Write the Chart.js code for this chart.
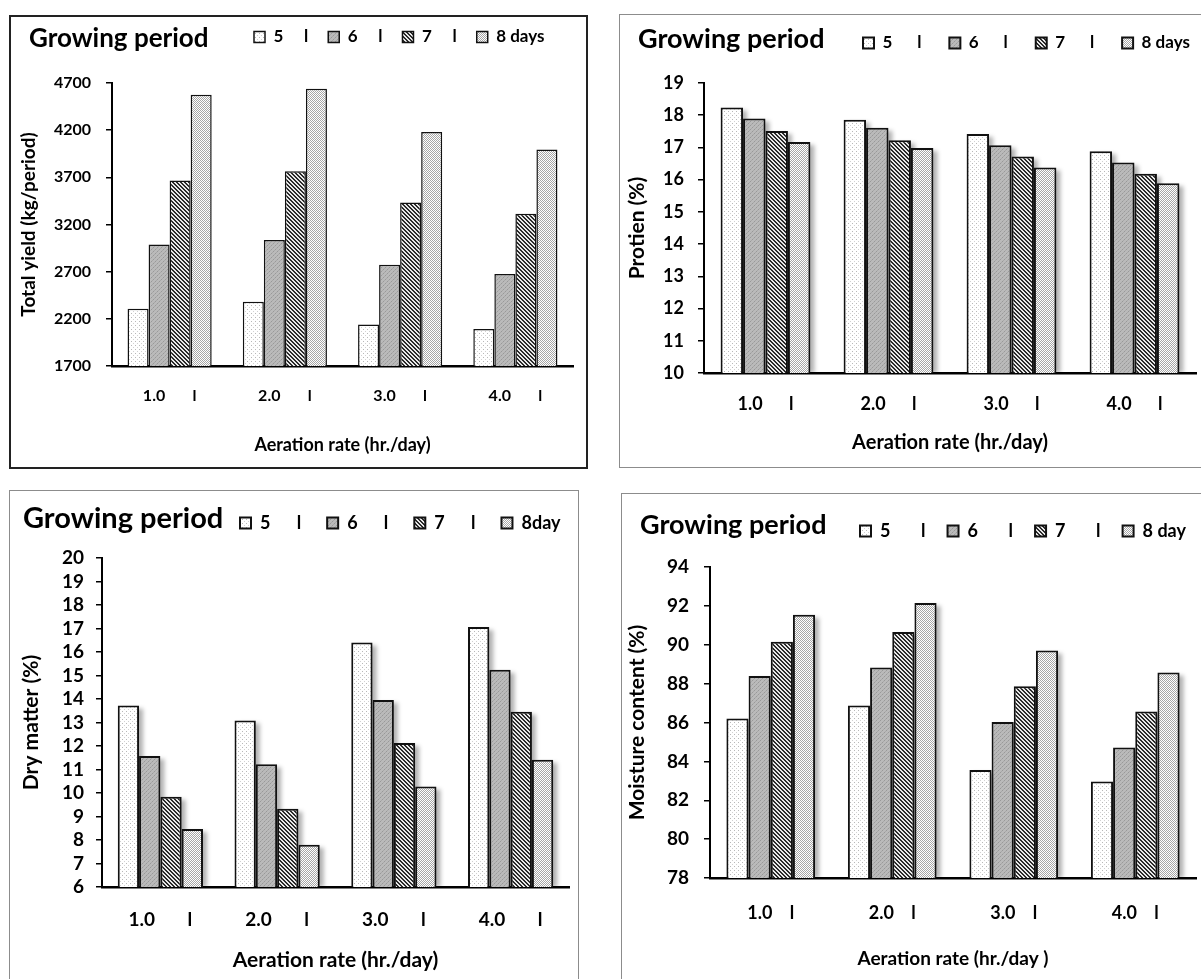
<!DOCTYPE html>
<html>
<head>
<meta charset="utf-8">
<title>Aeration rate and growing period</title>
<style>
  html, body { margin: 0; padding: 0; background: #fff; overflow: hidden; width: 1201px; height: 979px; }
  .panel { position: absolute; box-sizing: border-box; background: #fff; }
  .panel canvas { display: block; }
</style>
</head>
<body>

<div class="panel" id="p1"><canvas></canvas></div>
<div class="panel" id="p2"><canvas></canvas></div>
<div class="panel" id="p3"><canvas></canvas></div>
<div class="panel" id="p4"><canvas></canvas></div>

<script src="https://cdn.jsdelivr.net/npm/chart.js"></script>
<script>
    // aeration rate (hr./day) categories
    const rates = ['1.0', '2.0', '3.0', '4.0'];

    // total yield (kg/period), one list per growing period
    const yieldLegend = ['5     l', '6     l', '7     l', '8 days'];
    const yield5 = [2306, 2380, 2139, 2093];
    const yield6 = [2989, 3035, 2773, 2674];
    const yield7 = [3666, 3765, 3432, 3315];
    const yield8 = [4576, 4640, 4180, 3995];
    const yieldTicks = [1700, 2200, 2700, 3200, 3700, 4200, 4700];

    // protein (%)
    const proteinLegend = ['5      l', '6      l', '7      l', '8 days'];
    const protein5 = [18.24, 17.86, 17.42, 16.88];
    const protein6 = [17.90, 17.61, 17.07, 16.53];
    const protein7 = [17.51, 17.22, 16.72, 16.18];
    const protein8 = [17.17, 16.98, 16.38, 15.89];
    const proteinTicks = [10, 11, 12, 13, 14, 15, 16, 17, 18, 19];

    // dry matter (%)
    const dryLegend = ['5      l', '6      l', '7      l', '8day'];
    const dry5 = [13.72, 13.09, 16.40, 17.06];
    const dry6 = [11.57, 11.22, 13.96, 15.24];
    const dry7 = [9.84, 9.33, 12.13, 13.46];
    const dry8 = [8.47, 7.80, 10.28, 11.41];
    const dryTicks = [6, 7, 8, 9, 10, 11, 12, 13, 14, 15, 16, 17, 18, 19, 20];

    // moisture content (%)
    const moistLegend = ['5       l', '6       l', '7       l', '8 day'];
    const moist5 = [86.20, 86.88, 83.56, 82.96];
    const moist6 = [88.39, 88.83, 86.03, 84.72];
    const moist7 = [90.15, 90.66, 87.87, 86.56];
    const moist8 = [91.54, 92.15, 89.70, 88.57];
    const moistTicks = [78, 80, 82, 84, 86, 88, 90, 92, 94];

    const FONT = 'Lato, "Open Sans", sans-serif';

    // small textures like the Excel pattern fills
    function pattern(kind) {
        const c = document.createElement('canvas');
        c.width = 4; c.height = 4;
        const g = c.getContext('2d');
        const px = (x, y, col) => { g.fillStyle = col; g.fillRect(x, y, 1, 1); };
        if (kind === 0) {
            g.fillStyle = '#ffffff'; g.fillRect(0, 0, 4, 4);
            px(0, 0, '#b8b8b8'); px(2, 2, '#d2d2d2');
        } else if (kind === 1) {
            g.fillStyle = '#bababa'; g.fillRect(0, 0, 4, 4);
            px(0, 0, '#999'); px(2, 2, '#999'); px(1, 3, '#a8a8a8'); px(3, 1, '#a8a8a8');
        } else if (kind === 2) {
            g.fillStyle = '#e8e8e8'; g.fillRect(0, 0, 4, 4);
            for (let y = 0; y < 4; y++) for (let x = 0; x < 4; x++) if ((x - y + 4) % 4 < 2) px(x, y, '#2a2a2a');
        } else {
            for (let y = 0; y < 4; y++) for (let x = 0; x < 4; x++) px(x, y, (x + y) % 2 ? '#ffffff' : '#a6a6a6');
        }
        return g.createPattern(c, 'repeat');
    }
    const fills = [pattern(0), pattern(1), pattern(2), pattern(3)];

    // "Growing period" heading and legend placed on the same row
    const header = {
        id: 'header',
        afterLayout(chart, args, opts) {
            const lg = chart.legend;
            const lab = chart.options.plugins.legend.labels;
            const itemH = Math.max(lab.font.size, lab.boxHeight);
            const w = lg.right - lg.left, h = lg.bottom - lg.top;
            lg.left = opts.legendX - lab.padding;
            lg.right = lg.left + w;
            lg.top = opts.legendY - lab.padding - itemH / 2;
            lg.bottom = lg.top + h;
        },
        afterDraw(chart, args, opts) {
            const ctx = chart.ctx;
            ctx.save();
            ctx.font = 'bold ' + opts.size + 'px ' + FONT;
            ctx.fillStyle = '#000';
            ctx.textBaseline = 'alphabetic';
            ctx.fillText(opts.text, opts.x, opts.y);
            ctx.restore();
        }
    };

    // soft grey shadow to the right of the bars
    const shadow = {
        id: 'shadow',
        beforeDatasetsDraw(chart, args, opts) {
            if (!opts.show) return;
            const ctx = chart.ctx;
            const bottom = chart.chartArea.bottom;
            ctx.save();
            ctx.beginPath();
            ctx.rect(chart.chartArea.left, chart.chartArea.top, chart.chartArea.width + 20, chart.chartArea.height);
            ctx.clip();
            ctx.fillStyle = 'rgba(0,0,0,0.3)';
            ctx.filter = 'blur(2px)';
            chart.data.datasets.forEach((ds, i) => {
                chart.getDatasetMeta(i).data.forEach(bar => {
                    const {x, y, width} = bar.getProps(['x', 'y', 'width'], true);
                    ctx.fillRect(x - width / 2 + 4, y + 3, width, bottom - y - 3);
                });
            });
            ctx.restore();
        }
    };

    function drawPanel(p) {
        const el = document.getElementById(p.id);
        const [bx, by, bw, bh] = p.box;
        el.style.left = bx + 'px';
        el.style.top = by + 'px';
        el.style.width = bw + 'px';
        el.style.height = bh + 'px';
        el.style.border = p.border + 'px solid ' + p.borderColor;
        const ox = bx + p.border, oy = by + p.border;
        const W = bw - 2 * p.border, H = bh - 2 * p.border;
        const canvas = el.querySelector('canvas');
        canvas.width = W;
        canvas.height = H;

        const pl = p.plot[0] - ox, pt = p.plot[1] - oy, pr = p.plot[2] - ox, pb = p.plot[3] - oy;
        const legendH = Math.max(p.legendSize, 11) + p.legendPad + 10;
        const ticks = p.ticks;

        new Chart(canvas, {
            type: 'bar',
            data: {
                labels: rates.map(r => r + ' '.repeat(p.gap) + 'l'),
                datasets: p.series.map((vals, i) => ({
                    label: p.legend[i],
                    data: vals,
                    backgroundColor: fills[i],
                    borderColor: '#111',
                    borderWidth: p.barBorder,
                    barPercentage: 1,
                    categoryPercentage: 0.73
                }))
            },
            options: {
                responsive: false,
                animation: false,
                devicePixelRatio: 1,
                layout: { padding: { top: pt - legendH, left: 0, right: W - pr, bottom: 0 } },
                plugins: {
                    legend: {
                        position: 'top',
                        align: 'start',
                        labels: {
                            boxWidth: 11, boxHeight: 11, padding: p.legendPad, color: '#000',
                            font: { family: FONT, size: p.legendSize, weight: 'bold' }
                        }
                    },
                    tooltip: { enabled: false },
                    header: {
                        text: 'Growing period', size: p.headSize,
                        x: p.head[0] - ox, y: p.head[1] - oy,
                        legendX: p.legendAt[0] - ox, legendY: p.legendAt[1] - oy
                    },
                    shadow: { show: p.shadow }
                },
                scales: {
                    x: {
                        grid: { display: true, drawOnChartArea: false, drawTicks: false },
                        border: { display: true, color: '#000', width: 2.5 },
                        ticks: {
                            color: '#000', padding: p.xTickPad, maxRotation: 0, autoSkip: false,
                            font: { family: FONT, size: p.xTickSize, weight: 'bold' }
                        },
                        title: {
                            display: true, text: p.xTitle, color: '#000',
                            font: { family: FONT, size: p.xTitleSize, weight: 'bold' },
                            padding: { top: 0, bottom: p.xTitlePad }
                        },
                        afterFit: s => { s.height = H - pb; }
                    },
                    y: {
                        min: ticks[0],
                        max: ticks[ticks.length - 1],
                        ticks: {
                            stepSize: ticks[1] - ticks[0], autoSkip: false, color: '#000', padding: p.yTickPad,
                            font: { family: FONT, size: p.yTickSize, weight: 'bold' },
                            callback: v => String(v)
                        },
                        grid: { drawOnChartArea: false, drawTicks: true, tickLength: 6, color: '#000', lineWidth: 1.5 },
                        border: { display: true, color: '#000', width: 2 },
                        title: {
                            display: true, text: p.yTitle, color: '#000',
                            font: { family: FONT, size: p.yTitleSize, weight: 'bold' },
                            padding: { top: p.yTitlePad, bottom: 0 }
                        },
                        afterFit: s => { s.width = pl; }
                    }
                }
            },
            plugins: [header, shadow]
        });
    }

    drawPanel({
        id: 'p1', box: [9, 15, 579, 454], border: 2, borderColor: '#222',
        plot: [112, 83, 573, 366],
        series: [yield5, yield6, yield7, yield8], legend: yieldLegend, ticks: yieldTicks,
        head: [29, 47], headSize: 26, legendAt: [254, 37], legendSize: 17, legendPad: 20,
        gap: 7, xTickSize: 16, xTickPad: 20, xTitle: 'Aeration rate (hr./day)', xTitleSize: 18, xTitlePad: 11,
        yTitle: 'Total yield (kg/period)', yTitleSize: 19, yTitlePad: 6, yTickSize: 16, yTickPad: 15,
        barBorder: 1.5, shadow: false
    });

    drawPanel({
        id: 'p2', box: [619, 14, 600, 454], border: 1, borderColor: '#8c8c8c',
        plot: [704, 83, 1196, 373],
        series: [protein5, protein6, protein7, protein8], legend: proteinLegend, ticks: proteinTicks,
        head: [638, 48], headSize: 27, legendAt: [863, 43], legendSize: 17, legendPad: 28,
        gap: 6, xTickSize: 18, xTickPad: 20, xTitle: 'Aeration rate (hr./day)', xTitleSize: 20, xTitlePad: 12,
        yTitle: 'Protien (%)', yTitleSize: 21, yTitlePad: 5, yTickSize: 18, yTickPad: 14,
        barBorder: 2, shadow: true
    });

    drawPanel({
        id: 'p3', box: [9, 490, 570, 510], border: 1, borderColor: '#8c8c8c',
        plot: [102, 558, 569, 887],
        series: [dry5, dry6, dry7, dry8], legend: dryLegend, ticks: dryTicks,
        head: [23, 528], headSize: 29, legendAt: [240, 523], legendSize: 18, legendPad: 26,
        gap: 7, xTickSize: 19, xTickPad: 21, xTitle: 'Aeration rate (hr./day)', xTitleSize: 21, xTitlePad: 26,
        yTitle: 'Dry matter (%)', yTitleSize: 21, yTitlePad: 9, yTickSize: 19, yTickPad: 12,
        barBorder: 2, shadow: true
    });

    drawPanel({
        id: 'p4', box: [621, 493, 600, 510], border: 1, borderColor: '#8c8c8c',
        plot: [710, 567, 1196, 878],
        series: [moist5, moist6, moist7, moist8], legend: moistLegend, ticks: moistTicks,
        head: [640, 534], headSize: 27, legendAt: [860, 531], legendSize: 18, legendPad: 22,
        gap: 4, xTickSize: 18, xTickPad: 24, xTitle: 'Aeration rate (hr./day )', xTitleSize: 19, xTitlePad: 32,
        yTitle: 'Moisture content (%)', yTitleSize: 21, yTitlePad: 3, yTickSize: 19, yTickPad: 15,
        barBorder: 2, shadow: true
    });
</script>

</body>
</html>
